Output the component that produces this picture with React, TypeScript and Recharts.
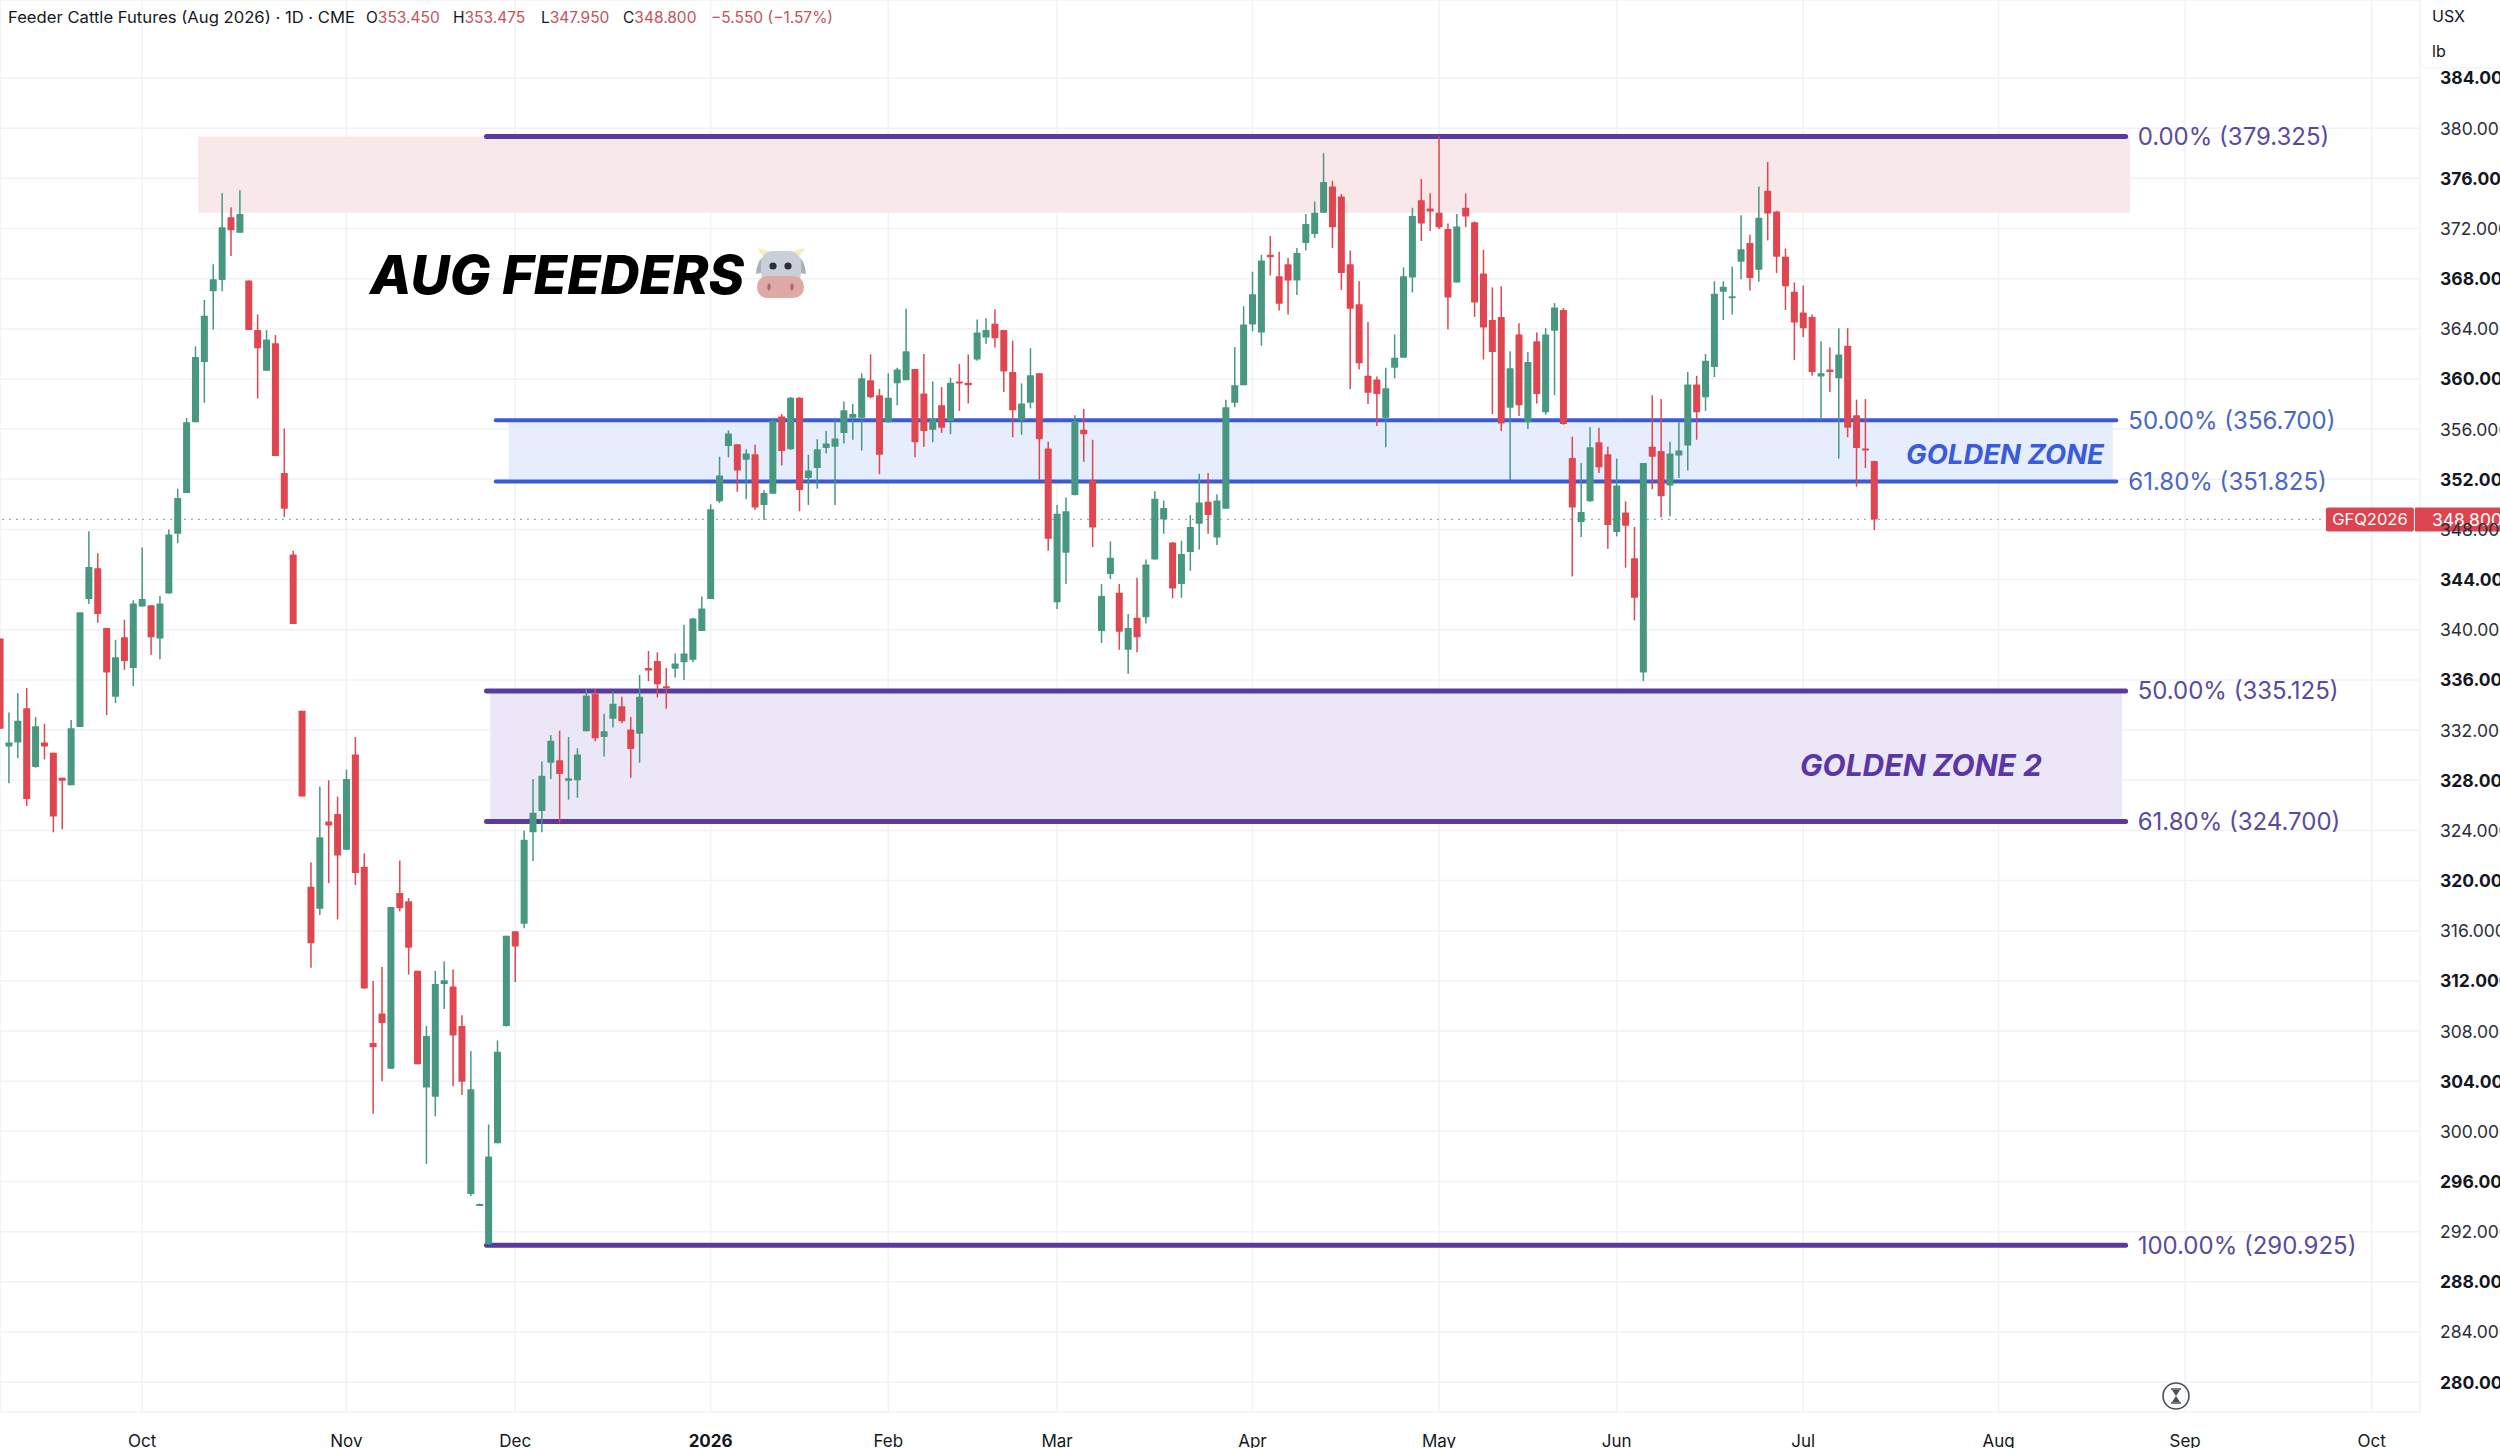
import React from "react";
import { ComposedChart, Bar, XAxis, YAxis, CartesianGrid, ReferenceLine, ReferenceArea } from "recharts";

const opens = [
339.3,330.7,331.0,333.75,329.05,331.0,330.2,328.2,327.6,332.25,
342.45,344.9,340.15,334.65,339.4,336.95,341.85,341.95,339.3,342.9,
347.65,350.9,356.55,361.35,367.0,367.9,372.9,371.65,367.85,363.9,
360.65,362.85,352.5,346.0,333.55,319.5,317.75,324.7,325.3,322.45,
330.05,321.1,307.05,309.4,305.0,319.0,318.35,312.8,303.5,302.75,
311.75,311.55,308.4,295.0,294.1,291.0,299.05,308.4,315.95,316.55,
323.85,325.55,329.4,329.6,327.95,328.0,331.9,334.9,331.45,332.9,
333.9,332.05,331.7,336.95,337.5,335.5,336.9,337.4,337.6,339.9,
342.45,350.25,354.65,354.8,353.55,354.0,349.95,350.85,357.0,354.4,
358.5,352.1,352.9,354.5,354.6,355.7,356.9,356.9,359.9,358.7,
356.55,359.65,359.9,360.8,358.85,355.95,357.9,356.65,359.8,359.7,
361.55,363.3,364.4,363.9,360.55,356.7,358.1,360.45,354.45,342.2,
346.15,350.75,355.95,351.9,339.9,344.45,342.95,338.4,340.95,341.0,
345.6,348.8,346.95,343.65,346.2,348.45,350.2,347.35,349.65,358.1,
359.5,364.35,363.7,369.9,368.2,369.15,367.85,370.85,371.55,373.25,
375.35,374.55,369.15,365.95,360.25,359.95,356.9,360.9,361.7,368.1,
374.25,373.6,373.25,371.95,367.7,373.65,372.5,368.4,364.7,364.95,
357.7,363.55,356.55,363.0,357.35,363.85,365.5,353.7,348.6,350.25,
354.95,354.0,347.8,349.35,345.7,336.6,354.6,354.25,351.5,353.9,
354.7,359.55,358.55,360.95,366.95,366.5,369.35,370.85,368.7,375.0,
373.35,369.75,366.95,365.3,364.95,360.2,360.75,360.05,362.65,357.1,
354.45,353.45,
];

const highs = [
339.3,333.4,334.95,335.35,333.05,332.5,330.2,328.2,332.8,341.4,
347.85,346.1,340.15,339.2,340.8,342.35,346.55,341.95,342.7,348.0,
351.25,356.9,362.6,366.3,369.15,374.8,373.7,375.05,367.85,365.15,
363.9,363.5,356.05,346.3,333.55,321.45,327.5,328.0,326.7,328.85,
331.45,322.15,312.0,313.1,317.9,321.6,318.6,312.8,308.4,312.8,
313.55,312.9,309.25,306.4,294.25,300.55,307.25,315.6,315.95,324.0,
328.1,329.5,331.6,331.95,331.45,330.55,335.25,335.25,333.3,335.1,
334.65,333.05,336.4,338.3,338.2,336.95,338.1,340.4,340.95,342.65,
350.0,353.8,355.9,354.8,354.4,354.75,351.15,356.9,357.2,358.55,
358.55,353.95,355.2,355.85,356.9,358.2,358.0,360.45,361.95,359.2,
360.45,360.9,365.6,360.8,362.0,359.8,359.35,360.1,361.2,361.95,
364.75,364.85,365.55,363.9,363.05,359.65,362.45,360.45,355.0,349.95,
350.55,357.1,357.6,355.15,343.65,347.05,343.65,341.25,344.15,345.6,
351.05,350.3,347.0,347.1,349.15,352.45,352.5,350.8,358.35,362.55,
365.8,368.55,369.9,371.4,370.15,369.65,370.45,373.15,374.15,378.0,
375.8,374.75,370.25,367.8,364.55,360.2,360.9,363.55,368.9,373.65,
375.95,374.8,379.325,372.4,373.15,374.8,372.55,370.3,367.3,367.4,
362.2,364.45,362.15,363.7,364.05,366.05,365.65,355.4,353.3,356.15,
356.1,354.6,353.65,350.25,348.2,353.3,358.7,358.4,355.0,356.55,
360.55,360.25,362.0,367.8,367.8,368.95,373.05,371.5,375.35,377.3,
373.4,370.4,367.7,367.45,365.15,363.0,362.5,364.05,364.05,358.35,
358.4,353.475,
];

const lows = [
332.1,327.75,329.75,325.95,329.0,329.65,323.85,324.1,327.6,332.25,
342.05,340.55,333.2,334.15,336.8,335.5,341.85,338.0,337.65,342.9,
346.9,350.9,356.55,358.1,363.95,367.0,369.8,371.65,363.9,358.45,
360.65,353.85,349.0,340.45,326.7,313.05,317.25,319.8,316.9,322.45,
319.65,311.4,301.4,304.0,305.0,317.55,312.5,305.35,297.4,301.2,
309.75,303.6,302.9,294.85,294.05,290.95,299.05,308.35,311.9,316.2,
321.55,323.85,328.1,324.55,326.45,326.6,331.9,331.1,329.9,332.2,
332.55,328.2,329.4,335.9,334.6,333.7,336.2,336.0,337.4,339.9,
342.45,350.1,353.75,351.0,350.4,349.55,348.75,350.85,353.1,354.35,
349.45,349.95,351.25,354.05,349.95,354.85,355.15,354.3,358.45,352.4,
356.5,357.9,359.9,353.75,354.6,354.95,355.7,355.6,357.45,358.05,
361.45,362.8,362.5,358.95,355.35,355.55,357.65,351.95,346.3,341.65,
343.65,350.7,353.4,346.6,338.95,344.05,338.4,336.5,338.2,340.5,
345.6,347.65,342.5,342.55,344.7,346.4,347.65,346.75,349.65,357.75,
359.5,363.8,362.65,368.25,365.45,365.15,366.7,370.25,371.25,373.25,
370.45,367.1,359.2,360.75,358.0,356.25,354.55,360.05,361.7,366.9,
371.0,371.8,371.95,363.95,367.7,372.1,364.95,361.55,357.2,355.85,
351.95,357.05,356.0,358.05,357.15,358.7,356.35,344.25,347.4,350.2,
352.5,346.45,347.45,344.95,340.75,335.9,351.2,348.95,349.05,352.1,
352.7,355.15,357.45,360.15,364.7,365.15,367.95,367.05,367.75,371.05,
368.45,365.5,361.5,363.35,360.25,356.7,358.95,353.65,355.35,351.4,
352.9,347.95,
];

const closes = [
332.1,331.0,332.75,326.5,332.3,330.7,325.1,327.95,332.15,341.4,
345.0,341.25,336.6,337.8,337.5,342.1,342.45,339.4,342.1,347.6,
350.5,356.55,361.75,365.05,367.95,372.1,371.85,373.15,363.9,362.45,
363.15,353.85,349.65,340.45,326.7,315.0,323.45,324.4,322.0,328.1,
320.6,311.4,306.7,308.65,317.9,317.8,314.65,305.35,307.6,311.75,
312.05,307.65,303.95,303.35,294.2,298.0,306.35,315.6,314.75,323.25,
325.4,328.35,331.15,328.5,328.15,330.05,334.75,331.35,331.9,334.1,
332.7,330.5,334.65,336.75,335.65,335.35,337.3,338.1,340.9,341.7,
349.6,352.3,355.65,352.7,354.05,349.75,350.9,356.65,354.25,358.5,
351.15,352.7,354.4,354.85,355.25,357.5,357.2,360.05,358.55,353.95,
358.5,360.75,362.2,354.95,355.85,356.8,356.1,359.7,359.65,359.5,
363.7,363.9,363.25,360.6,357.5,358.05,360.3,355.2,347.25,349.25,
349.45,356.65,355.6,348.15,342.7,345.75,339.85,340.15,339.4,345.2,
350.45,349.7,343.3,346.05,348.2,350.15,349.15,350.3,357.75,359.5,
364.35,366.75,369.45,369.7,366.0,367.85,370.05,372.35,373.25,375.7,
372.1,368.45,365.6,361.25,358.9,358.8,359.25,361.7,368.2,373.0,
372.4,373.35,372.1,366.5,372.15,372.95,366.1,364.1,362.15,356.45,
360.85,357.9,361.35,358.8,363.55,365.7,356.4,349.75,349.4,354.55,
352.95,348.35,351.5,348.3,342.55,353.3,353.8,350.65,354.05,354.3,
359.55,357.35,361.45,366.8,367.35,366.6,370.35,368.05,372.85,373.2,
369.75,367.4,364.5,364.05,360.55,360.45,360.55,361.95,356.1,354.5,
354.3,348.8,
];

const priceTicks = [384,380,376,372,368,364,360,356,352,348,344,340,336,332,328,324,320,316,312,308,304,300,296,292,288,284,280];
const boldPrices = [384,376,368,360,352,344,336,328,320,312,304,296,288,280];
const monthTicks = [15,38,57,79,99,118,140,161,181,202,224,245,266];
const monthLabels = ["Oct","Nov","Dec","2026","Feb","Mar","Apr","May","Jun","Jul","Aug","Sep","Oct"];
const purpleLevels = [
  { value: 379.325, label: "0.00% (379.325)" },
  { value: 335.125, label: "50.00% (335.125)" },
  { value: 324.7, label: "61.80% (324.700)" },
  { value: 290.925, label: "100.00% (290.925)" },
];
const blueLevels = [
  { value: 356.7, label: "50.00% (356.700)" },
  { value: 351.825, label: "61.80% (351.825)" },
];
const lastClose = 348.8;
const supplyZone = { x1: 21.3, x2: 238.8, y1: 373.25, y2: 379.325 };
const goldenZone = { x1: 56.25, x2: 236.85, y1: 351.825, y2: 356.7 };
const goldenZone2 = { x1: 54.2, x2: 237.9, y1: 324.7, y2: 335.125 };
const purpleSpan = [53.77, 238.3];
const blueSpan = [54.81, 237.25];
const dotSpan = [-0.75, 260.4];

const GREEN = "#489780";
const RED = "#df4650";
const PURPLE = "#5b3a9f";
const BLUE = "#3b5bd6";
const FONT = "Inter, sans-serif";

const rows = opens.map((o, i) => ({
  x: i - 1,
  range: [lows[i], highs[i]],
  open: o,
  close: closes[i],
}));

function Candle(props: any) {
  const { x, y, width, height, payload } = props;
  if (!payload) return null;
  const [lo, hi] = payload.range;
  const k = hi > lo ? height / (hi - lo) : 0;
  const top = Math.max(payload.open, payload.close);
  const bot = Math.min(payload.open, payload.close);
  const up = payload.close >= payload.open;
  const c = up ? GREEN : RED;
  const by = y + (hi - top) * k;
  const bh = Math.max((top - bot) * k, 2);
  const cx = x + width / 2;
  return (
    <g>
      <line x1={cx} x2={cx} y1={y} y2={y + height} stroke={c} strokeWidth={1.5} />
      <rect x={x} y={by} width={width} height={bh} fill={c} rx={0.6} />
    </g>
  );
}

function PriceTick(props: any) {
  const { x, y, payload } = props;
  const bold = boldPrices.includes(payload.value);
  return (
    <text x={x + 12} y={y} dominantBaseline="central" fontFamily={FONT} fontSize={17.5}
      fontWeight={bold ? 700 : 400} fill={bold ? "#131722" : "#2a2e39"}>
      {payload.value.toFixed(3)}
    </text>
  );
}

function MonthTick(props: any) {
  const { x, y, payload } = props;
  const idx = monthTicks.indexOf(payload.value);
  const label = monthLabels[idx];
  return (
    <text x={x} y={y + 21} textAnchor="middle" dominantBaseline="central" fontFamily={FONT}
      fontSize={17} fontWeight={label === "2026" ? 700 : 400} fill="#131722">
      {label}
    </text>
  );
}

function PriceTag(props: any) {
  const vb = props.viewBox;
  const right = vb.x + (vb.width || 0);
  const cy = vb.y + (vb.height || 0) / 2;
  return (
    <g>
      <rect x={right + 4} y={cy - 12} width={88} height={24} rx={2} fill="#dc4550" />
      <rect x={right + 93} y={cy - 12} width={90} height={24} rx={1} fill="#dc4550" />
      <text x={right + 48} y={cy} textAnchor="middle" dominantBaseline="central" fontFamily={FONT} fontSize={16.5} fill="#fff">GFQ2026</text>
      <text x={right + 110} y={cy} dominantBaseline="central" fontFamily={FONT} fontSize={17.5} fill="#fff">{lastClose.toFixed(3)}</text>
    </g>
  );
}

function Overlay() {
  const red = "#c6525b";
  return (
    <svg width={2500} height={1448} style={{ position: "absolute", left: 0, top: 0, pointerEvents: "none" }}>
      <text x={8} y={17} dominantBaseline="central" fontFamily={FONT} fontSize={15.5} fill="#131722" textLength={347} lengthAdjust="spacingAndGlyphs">
        Feeder Cattle Futures (Aug 2026) · 1D · CME
      </text>
      {[
        { x: 366, l: "O", v: "353.450" },
        { x: 453, l: "H", v: "353.475" },
        { x: 541, l: "L", v: "347.950" },
        { x: 623, l: "C", v: "348.800" },
      ].map((d) => (
        <text key={d.l} x={d.x} y={17} dominantBaseline="central" fontFamily={FONT} fontSize={15.5}>
          <tspan fill="#131722">{d.l}</tspan>
          <tspan fill={red}>{d.v}</tspan>
        </text>
      ))}
      <text x={711} y={17} dominantBaseline="central" fontFamily={FONT} fontSize={15.5} fill={red}>−5.550 (−1.57%)</text>

      <rect x={2420} y={-4} width={90} height={72} rx={8} fill="#fff" stroke="#f0f1f3" />
      <text x={2432} y={16} dominantBaseline="central" fontFamily={FONT} fontSize={16} fill="#131722">USX</text>
      <text x={2432} y={51} dominantBaseline="central" fontFamily={FONT} fontSize={16} fill="#131722">lb</text>

      <text x={370} y={274} dominantBaseline="central" fontFamily={FONT} fontSize={54} fontWeight={800} fontStyle="italic" fill="#000">AUG FEEDERS</text>
      <text x={1906} y={454} dominantBaseline="central" fontFamily={FONT} fontSize={27.5} fontWeight={700} fontStyle="italic" fill="#3a5bdc">GOLDEN ZONE</text>
      <text x={1800} y={765} dominantBaseline="central" fontFamily={FONT} fontSize={30} fontWeight={700} fontStyle="italic" fill="#5b36a6">GOLDEN ZONE 2</text>

      <g>
        <path d="M764 258 L757 248 L772 252 Z M798 258 L805 248 L790 252 Z" fill="#f5ecc4" />
        <path d="M762 258 Q757 262 756 274 Q764 274 768 266 Z M800 258 Q805 262 806 274 Q798 274 794 266 Z" fill="#a9b2bc" />
        <rect x={761} y={251} width={40} height={34} rx={12} fill="#c9d0da" />
        <circle cx={773} cy={266} r={3.6} fill="#2a2e39" />
        <circle cx={788} cy={266} r={3.6} fill="#2a2e39" />
        <rect x={757} y={276} width={47} height={22} rx={10.5} fill="#dfa9a6" />
        <ellipse cx={769} cy={287} rx={1.6} ry={3.4} fill="#a86a6a" />
        <ellipse cx={792} cy={287} rx={1.6} ry={3.4} fill="#a86a6a" />
      </g>

      <g fill="none" stroke="#4a4f5a">
        <circle cx={2176} cy={1396} r={13} strokeWidth={1.6} />
        <path d="M2171 1389 H2181 M2171 1403 H2181" strokeWidth={1.6} />
      </g>
      <path d="M2172 1390 L2180 1390 L2176 1396 L2180 1402 L2172 1402 L2176 1396 Z" fill="#4a4f5a" />
    </svg>
  );
}

export default function App() {
  return (
    <div style={{ position: "absolute", left: 0, top: 0, width: 2500, height: 1448, background: "#fff", overflow: "hidden" }}>
      <ComposedChart width={2500} height={1448} data={rows} margin={{ top: 0, right: 0, bottom: 0, left: 0 }}>
        <CartesianGrid stroke="#f1f2f5" strokeWidth={1.5} />
        <XAxis dataKey="x" type="number" domain={[-0.75, 271.44]} ticks={monthTicks} interval={0}
          axisLine={false} tickLine={false} height={36} tick={<MonthTick />} />
        <YAxis orientation="right" type="number" domain={[277.62, 390.22]} ticks={priceTicks} interval={0}
          axisLine={false} tickLine={false} width={80} tick={<PriceTick />} />
        <ReferenceArea {...supplyZone} fill="#f9e8ea" fillOpacity={1} stroke="none" zIndex={50} />
        <ReferenceArea {...goldenZone} fill="#e6edfc" fillOpacity={1} stroke="none" zIndex={50} />
        <ReferenceArea {...goldenZone2} fill="#ebe7f6" fillOpacity={1} stroke="none" zIndex={50} />
        {purpleLevels.map((l) => (
          <ReferenceLine key={l.label} segment={[{ x: purpleSpan[0], y: l.value }, { x: purpleSpan[1], y: l.value }]}
            stroke={PURPLE} strokeWidth={5} strokeLinecap="round" zIndex={60}
            label={{ value: l.label, position: "right", offset: 12, fill: "#5a4aa0", fontSize: 24, fontFamily: FONT }} />
        ))}
        {blueLevels.map((l) => (
          <ReferenceLine key={l.label} segment={[{ x: blueSpan[0], y: l.value }, { x: blueSpan[1], y: l.value }]}
            stroke={BLUE} strokeWidth={4} strokeLinecap="round" zIndex={60}
            label={{ value: l.label, position: "right", offset: 12, fill: "#4a66c8", fontSize: 24, fontFamily: FONT }} />
        ))}
        <ReferenceLine segment={[{ x: dotSpan[0], y: lastClose }, { x: dotSpan[1], y: lastClose }]}
          stroke="#8a8d94" strokeWidth={1.3} strokeDasharray="1.5 5.5" zIndex={70} label={<PriceTag />} />
        <Bar dataKey="range" barSize={7} isAnimationActive={false} shape={<Candle />} />
      </ComposedChart>
      <Overlay />
    </div>
  );
}
